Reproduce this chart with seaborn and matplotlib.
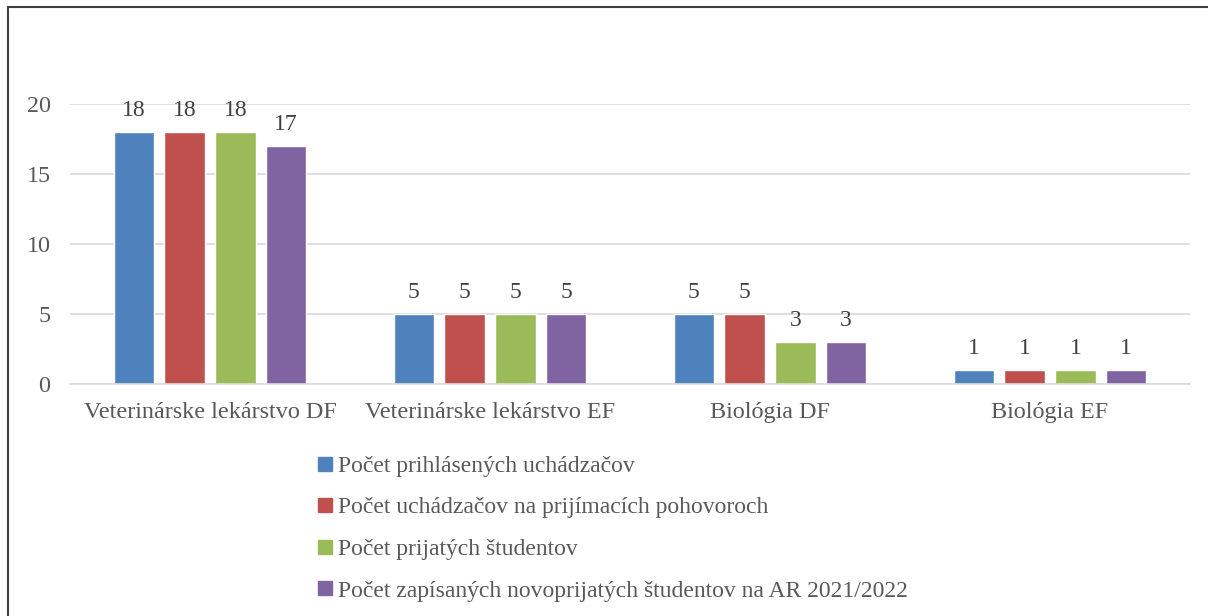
import pandas as pd
import matplotlib.pyplot as plt
import matplotlib.lines as mlines
import seaborn as sns

categories = ["Veterinárske lekárstvo DF", "Veterinárske lekárstvo EF", "Biológia DF", "Biológia EF"]
series = [
    "Počet prihlásených uchádzačov",
    "Počet uchádzačov na prijímacích pohovoroch",
    "Počet prijatých študentov",
    "Počet zapísaných novoprijatých študentov na AR 2021/2022",
]
prihlaseni = [18, 5, 5, 1]
pohovory = [18, 5, 5, 1]
prijati = [18, 5, 3, 1]
zapisani = [17, 5, 3, 1]

COLORS = ["#4F81BD", "#C0504D", "#9BBB59", "#8064A2"]

rows = []
for name, vals in zip(series, [prihlaseni, pohovory, prijati, zapisani]):
    for cat, v in zip(categories, vals):
        rows.append({"kategoria": cat, "seria": name, "pocet": v})
df = pd.DataFrame(rows)

sns.set_style("white")
plt.rcParams["font.family"] = ["Liberation Serif", "DejaVu Serif"]

fig = plt.figure(figsize=(12.08, 6.16), dpi=100)
ax = fig.add_axes([70 / 1208, 1 - 384 / 616, 1120 / 1208, 280 / 616])

sns.barplot(data=df, x="kategoria", y="pocet", hue="seria", hue_order=series,
            palette=COLORS, width=0.725, gap=0.2, saturation=1, ax=ax, legend=False)

for cont in ax.containers:
    ax.bar_label(cont, fontsize=17, color="#404040", padding=8)

ax.set_ylim(0, 20)
ax.set_xlim(-0.5, 3.5)
ax.set_yticks([0, 5, 10, 15, 20])
ax.yaxis.grid(True, color="#D9D9D9", linewidth=1.2)
ax.set_axisbelow(True)
for s in ["top", "right", "left"]:
    ax.spines[s].set_visible(False)
ax.spines["bottom"].set_color("#D9D9D9")
ax.spines["bottom"].set_linewidth(1.2)
ax.tick_params(axis="both", length=0, labelsize=17.4, labelcolor="#595959")
ax.tick_params(axis="y", pad=14)
ax.tick_params(axis="x", pad=13)
ax.set_xlabel("")
ax.set_ylabel("")

handles = [mlines.Line2D([], [], marker="s", linestyle="", markersize=9.5,
                         color=c, label=s) for c, s in zip(COLORS, series)]
fig.legend(handles=handles, loc="upper left", bbox_to_anchor=(294 / 1208, 1 - 434 / 616),
           frameon=False, fontsize=17, labelcolor="#595959", handletextpad=0.15,
           labelspacing=0.85, handlelength=0.8)

# frame around the chart
fig.add_artist(plt.Line2D([8 / 1208, 8 / 1208], [0, 1 - 7 / 616], color="#404040",
                          linewidth=1.5, transform=fig.transFigure))
fig.add_artist(plt.Line2D([8 / 1208, 1], [1 - 7 / 616, 1 - 7 / 616], color="#404040",
                          linewidth=1.5, transform=fig.transFigure))

plt.savefig("out.png", dpi=100)
